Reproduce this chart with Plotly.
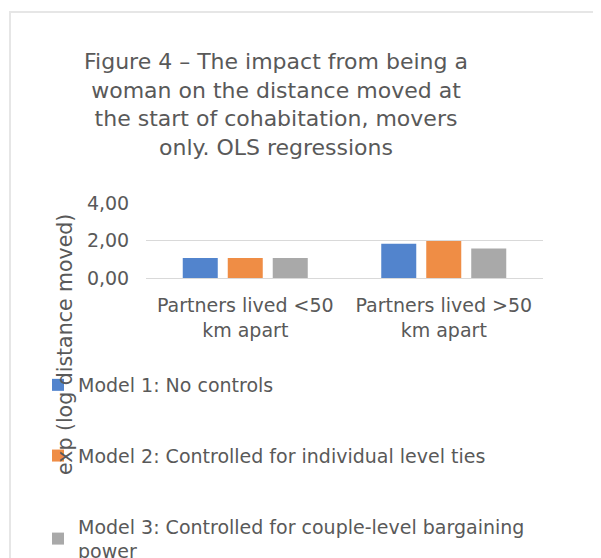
import plotly.graph_objects as go

categories = ["Partners lived <50<br>km apart", "Partners lived >50<br>km apart"]
series_names = [
    "Model 1: No controls",
    "Model 2: Controlled for individual level ties",
    "Model 3: Controlled for couple-level bargaining<br>power",
]
model1 = [1.07, 1.83]
model2 = [1.07, 1.97]
model3 = [1.07, 1.57]
colors = ["#5284cd", "#ef8d45", "#a9a9a9"]
y_ticks = [0, 2, 4]

W, H = 601, 558
OFF = 8  # page body margin
L, R, T, B = 146 - OFF, 543 - OFF, 203 - OFF, 278 - OFF

def px_x(px):
    return (px - OFF - L) / (R - L)

def px_y(py):
    return (B - (py - OFF)) / (B - T)

fig = go.Figure()
for i, (name, vals) in enumerate(zip(series_names, [model1, model2, model3])):
    fig.add_trace(go.Bar(
        x=categories, y=vals, name=name,
        marker=dict(color=colors[i], line=dict(width=0)),
        legendgroup=f"g{i}",
    ))

fig.update_layout(
    width=W, height=H,
    margin=dict(l=L, r=W - R, t=T, b=H - B, pad=0, autoexpand=False),
    paper_bgcolor="white", plot_bgcolor="white",
    font=dict(family="DejaVu Sans", size=19, color="#595959"),
    separators=",.",
    barmode="group", bargap=0.32, bargroupgap=0.222,
    title=dict(
        text="Figure 4 – The impact from being a<br>woman on the distance moved at<br>the start of cohabitation, movers<br>only. OLS regressions",
        font=dict(family="DejaVu Sans", size=22, color="#595959"),
        x=px_x(276), xref="paper", xanchor="center",
        y=1 - 61 / H, yref="container", yanchor="top",
    ),
    xaxis=dict(showline=False, ticks="outside", ticklen=10, tickcolor="rgba(0,0,0,0)",
               tickfont=dict(size=19, color="#595959")),
    yaxis=dict(range=[0, 4], tickvals=y_ticks, tickformat=".2f",
               showgrid=True, gridcolor="#d9d9d9", gridwidth=1,
               zeroline=True, zerolinecolor="#d9d9d9", zerolinewidth=1,
               showline=False, ticks="outside", ticklen=12, tickcolor="rgba(0,0,0,0)",
               tickfont=dict(size=19, color="#595959")),
    showlegend=True,
    legend=dict(x=px_x(38), y=px_y(366), xanchor="left", yanchor="top",
                traceorder="grouped", tracegroupgap=43, itemwidth=30,
                font=dict(size=19, color="#595959"),
                bgcolor="rgba(0,0,0,0)"),
    annotations=[dict(
        text="exp (log distance moved)", textangle=-90,
        x=px_x(65), y=px_y(345), xref="paper", yref="paper",
        xanchor="center", yanchor="middle",
        showarrow=False, font=dict(size=20.5, color="#595959"),
    )],
    shapes=[dict(type="rect", xref="paper", yref="paper",
                 x0=px_x(10), x1=px_x(660), y0=px_y(620), y1=px_y(12),
                 line=dict(color="#e6e6e6", width=2), layer="below")],
)

fig.write_html("out.html")
